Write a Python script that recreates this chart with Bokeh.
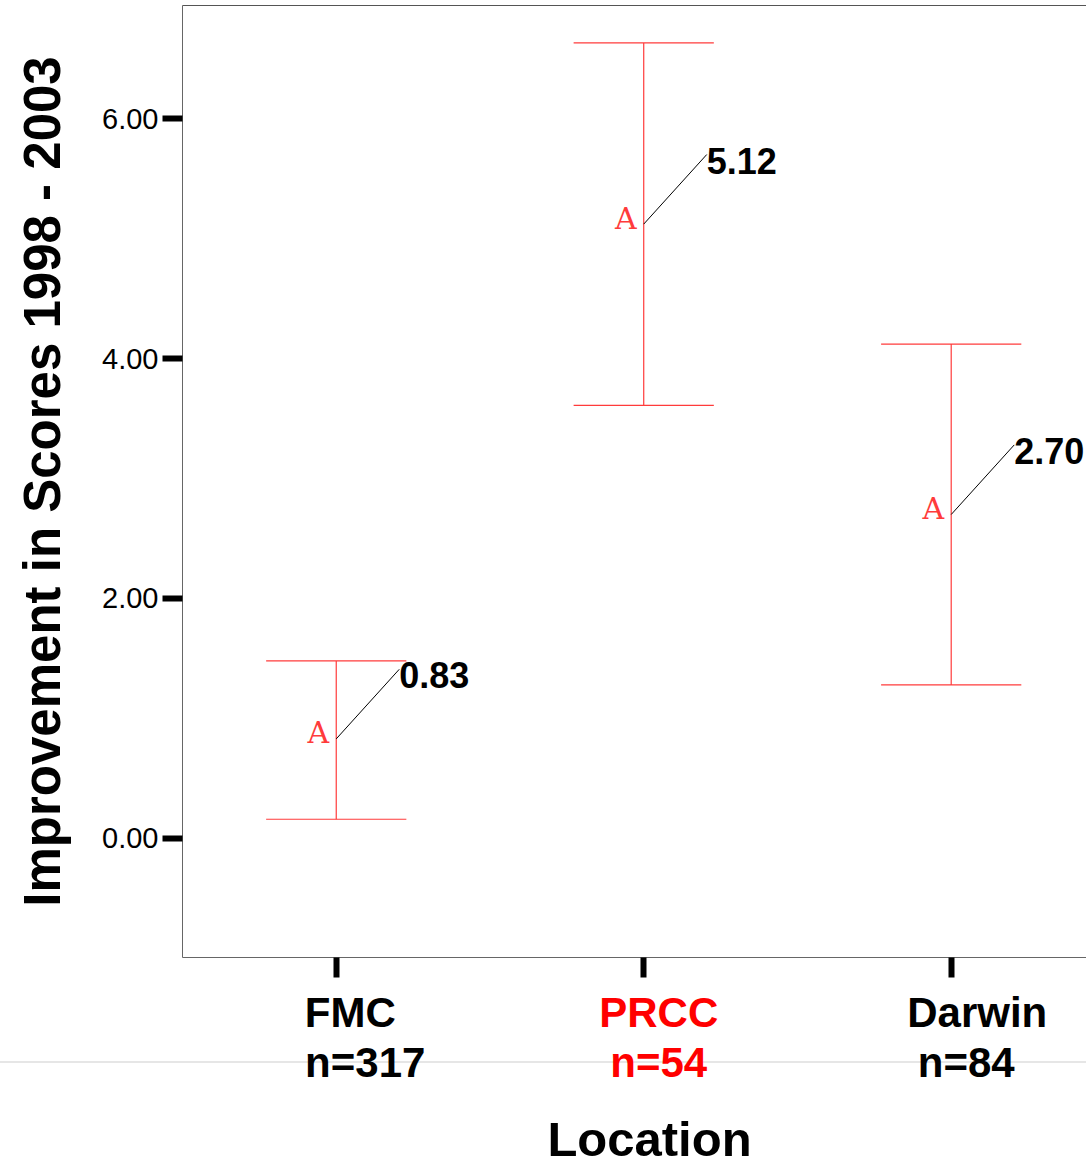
from bokeh.plotting import figure
from bokeh.layouts import column
from bokeh.models import Range1d, FixedTicker, LinearAxis, NumeralTickFormatter, ColumnDataSource
from bokeh.core.properties import value
from bokeh.embed import file_html
from bokeh.resources import INLINE

# ---------------- data ----------------
categories = ["FMC", "PRCC", "Darwin"]
counts = ["n=317", "n=54", "n=84"]
means = [0.83, 5.12, 2.70]
lower = [0.16, 3.61, 1.28]
upper = [1.48, 6.63, 4.12]
mean_labels = ["0.83", "5.12", "2.70"]
y_ticks = [0, 2, 4, 6]
label_colors = ["black", "red", "black"]
x_title = "Location"
y_title = "Improvement in Scores 1998 - 2003"

# ---------------- style ----------------
FONT = "Liberation Sans"
RED = "#ff3b3b"
CAP = 0.228          # half width of error-bar caps (x units)
LEAD_DX = 0.205      # leader line offsets
LEAD_DY = 0.58
Y0, Y1 = -0.992, 6.942
X0, X1 = -0.5, 2.44
W = 1086
LEFT = 182
TOP_H = 985
FRAME_H = 952
BOT_H = 182
PPX = (W - LEFT) / (X1 - X0)

xs = list(range(len(categories)))
xr = Range1d(X0, X1)

p = figure(width=W, height=TOP_H, output_backend="svg", toolbar_location=None,
           x_range=xr, y_range=Range1d(Y0, Y1),
           min_border_left=LEFT, min_border_right=0, min_border_top=5,
           min_border_bottom=TOP_H - 5 - FRAME_H, outline_line_color=None,
           background_fill_color="white", border_fill_color="white")
p.grid.visible = False

# y axis
ya = p.yaxis[0]
ya.ticker = FixedTicker(ticks=y_ticks)
ya.formatter = NumeralTickFormatter(format="0.00")
ya.major_label_text_font = FONT
ya.major_label_text_font_size = "29px"
ya.major_label_text_color = "black"
ya.major_label_standoff = 4
ya.major_tick_out = 20
ya.major_tick_in = 0
ya.major_tick_line_width = 6
ya.major_tick_line_color = "black"
ya.minor_tick_line_color = None
ya.axis_line_color = "#666666"
ya.axis_label = y_title
ya.axis_label_text_font = FONT
ya.axis_label_text_font_size = "51px"
ya.axis_label_text_font_style = "bold"
ya.axis_label_text_color = "black"
ya.axis_label_standoff = 28

# x axis (ticks only; labels drawn below)
xa = p.xaxis[0]
xa.ticker = FixedTicker(ticks=xs)
xa.major_label_overrides = {x: "" for x in xs}
xa.major_label_standoff = 0
xa.major_tick_out = 20
xa.major_tick_in = 0
xa.major_tick_line_width = 6
xa.major_tick_line_color = "black"
xa.minor_tick_line_color = None
xa.axis_line_color = "#666666"

# top border
top = LinearAxis(ticker=FixedTicker(ticks=[]), major_label_standoff=0,
                 major_tick_out=0, major_tick_in=0, minor_tick_out=0, minor_tick_in=0,
                 axis_line_color="#555555")
p.add_layout(top, "above")

src = ColumnDataSource(dict(
    x=xs, mean=means, lo=lower, hi=upper, lab=mean_labels,
    cl=[x - CAP for x in xs], cr=[x + CAP for x in xs],
    lx=[x + LEAD_DX for x in xs], ly=[m + LEAD_DY for m in means],
    a=["A"] * len(xs),
))

# error bars
p.segment(x0="x", y0="lo", x1="x", y1="hi", source=src, line_color=RED, line_width=1.2)
p.segment(x0="cl", y0="hi", x1="cr", y1="hi", source=src, line_color=RED, line_width=1.2)
p.segment(x0="cl", y0="lo", x1="cr", y1="lo", source=src, line_color=RED, line_width=1.2)

# leader lines and value labels
p.segment(x0="x", y0="mean", x1="lx", y1="ly", source=src, line_color="black", line_width=1)
p.text(x="lx", y="ly", text="lab", source=src, text_font=value(FONT), text_font_size="36px",
       text_font_style="bold", text_color="black", text_align="left", text_baseline="middle",
       y_offset=6)

# mean markers
p.text(x="x", y="mean", text="a", source=src, text_font=value("DejaVu Serif"), text_font_size="30px",
       text_color=RED, text_align="right", text_baseline="alphabetic", x_offset=-7, y_offset=-6)

# ---------------- bottom strip: category labels and x title ----------------
p2 = figure(width=W, height=BOT_H, output_backend="svg", toolbar_location=None,
            x_range=xr, y_range=Range1d(BOT_H, 0),
            min_border_left=LEFT, min_border_right=0, min_border_top=0, min_border_bottom=0,
            x_axis_location=None, y_axis_location=None, outline_line_color=None,
            background_fill_color=None, border_fill_color=None)
p2.grid.visible = False
p2.styles = {"background": "linear-gradient(to bottom, white 76px, #e6e6e6 76px, #e6e6e6 78px, white 78px)"}

line1_dx = [14, 15, 26]
line2_dx = [29, 15, 15]
cat_src = ColumnDataSource(dict(
    x1=[x + d / PPX for x, d in zip(xs, line1_dx)],
    x2=[x + d / PPX for x, d in zip(xs, line2_dx)],
    y1=[27] * len(xs), y2=[77] * len(xs),
    cat=categories, n=counts, col=label_colors,
))
for xk, yk, tk in (("x1", "y1", "cat"), ("x2", "y2", "n")):
    p2.text(x=xk, y=yk, text=tk, source=cat_src, text_font=value(FONT), text_font_size="42px",
            text_font_style="bold", text_color="col", text_align="center", text_baseline="middle")

p2.text(x=[X0 + (649 - LEFT) / PPX], y=[153], text=[x_title], text_font=value(FONT),
        text_font_size="49px", text_font_style="bold", text_color="black",
        text_align="center", text_baseline="middle")

layout = column(p, p2, spacing=0)
open("out.html", "w").write(file_html(layout, INLINE))
